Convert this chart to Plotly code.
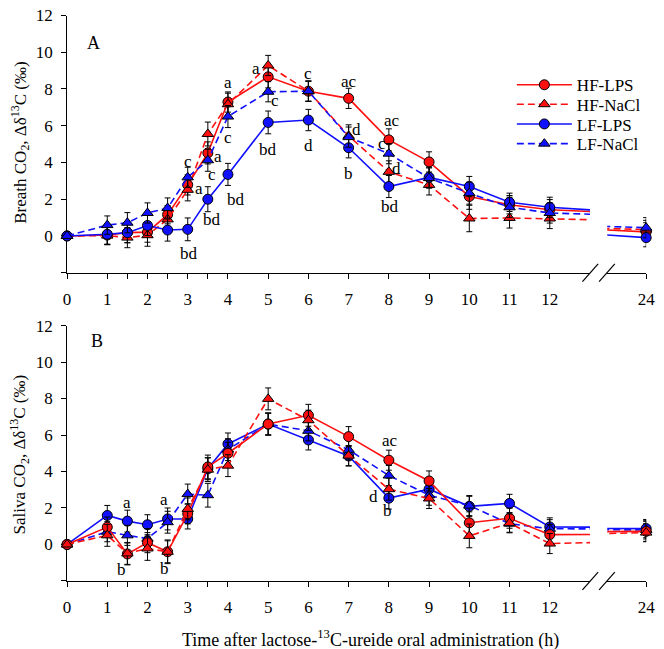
import plotly.graph_objects as go

W, H = 664, 649

# ---------------- data ----------------
hours = [0, 1, 1.5, 2, 2.5, 3, 3.5, 4, 5, 6, 7, 8, 9, 10, 11, 12, 24]
label_ticks = [0, 1, 2, 3, 4, 5, 6, 7, 8, 9, 10, 11, 12]
series_names = ["HF-LPS", "HF-NaCl", "LF-LPS", "LF-NaCl"]

# Panel A: breath CO2
hf_lps_A = [0, 0.05, 0.18, 0.21, 1.16, 2.78, 4.52, 7.29, 8.66, 7.88, 7.49, 5.23, 4.03, 2.15, 1.70, 1.43, 0.22]
hf_nacl_A = [0, 0.02, -0.09, 0.04, 0.90, 2.51, 5.55, 7.17, 9.28, 7.88, 5.45, 3.49, 2.78, 0.95, 0.98, 0.95, 0.35]
lf_lps_A = [0, 0.09, 0.18, 0.57, 0.32, 0.36, 2.00, 3.35, 6.18, 6.31, 4.80, 2.69, 3.19, 2.69, 1.83, 1.56, -0.09]
lf_nacl_A = [0, 0.59, 0.72, 1.25, 1.52, 3.19, 4.12, 6.50, 7.85, 7.88, 5.38, 4.48, 3.15, 2.33, 1.56, 1.25, 0.45]

hf_lps_A_err = [0, 0.50, 0.55, 0.55, 0.50, 0.55, 0.60, 0.55, 0.60, 0.55, 0.55, 0.60, 0.55, 0.70, 0.50, 0.55, 0.50]
hf_nacl_A_err = [0, 0.50, 0.55, 0.60, 0.55, 0.60, 0.65, 0.60, 0.55, 0.55, 0.60, 0.60, 0.55, 0.72, 0.55, 0.55, 0.50]
lf_lps_A_err = [0, 0.55, 0.55, 0.55, 0.60, 0.62, 0.68, 0.60, 0.62, 0.58, 0.55, 0.60, 0.55, 0.55, 0.50, 0.55, 0.50]
lf_nacl_A_err = [0, 0.50, 0.55, 0.55, 0.55, 0.55, 0.60, 0.60, 0.55, 0.55, 0.55, 0.55, 0.55, 0.60, 0.55, 0.55, 0.55]

# Panel B: saliva CO2
hf_lps_B = [0, 0.95, -0.52, 0.10, -0.40, 1.68, 4.25, 5.00, 6.60, 7.08, 5.91, 4.62, 3.48, 1.19, 1.44, 0.54, 0.72]
hf_nacl_B = [0, 0.50, -0.49, -0.22, -0.40, 1.95, 4.10, 4.32, 7.98, 6.81, 4.87, 3.03, 2.52, 0.47, 1.17, 0.05, 0.65]
lf_lps_B = [0, 1.59, 1.28, 1.08, 1.40, 1.40, 4.15, 5.51, 6.60, 5.73, 4.85, 2.54, 3.03, 2.09, 2.25, 0.96, 0.87]
lf_nacl_B = [0, 0.70, 0.50, 0.32, 1.22, 2.76, 2.70, 5.20, 6.60, 6.23, 5.19, 3.78, 2.70, 2.13, 1.14, 0.86, 0.80]

hf_lps_B_err = [0, 0.55, 0.60, 0.55, 0.60, 0.55, 0.65, 0.60, 0.60, 0.60, 0.55, 0.55, 0.55, 0.60, 0.55, 0.55, 0.55]
hf_nacl_B_err = [0, 0.60, 0.60, 0.65, 0.65, 0.60, 0.65, 0.60, 0.60, 0.55, 0.55, 0.60, 0.55, 0.65, 0.50, 0.55, 0.50]
lf_lps_B_err = [0, 0.55, 0.60, 0.55, 0.60, 0.55, 0.60, 0.60, 0.60, 0.55, 0.55, 0.60, 0.55, 0.55, 0.50, 0.50, 0.50]
lf_nacl_B_err = [0, 0.55, 0.55, 0.55, 0.60, 0.55, 0.65, 0.60, 0.60, 0.55, 0.55, 0.55, 0.55, 0.55, 0.50, 0.50, 0.50]

# significance letters: (x, y, text)
letters_A = [(3.0, 4.03, "c"), (3.27, 2.6, "a"), (3.76, 4.3, "a"), (3.6, 3.32, "c"),
             (3.6, 0.9, "bd"), (3.02, -0.98, "bd"), (4.0, 8.33, "a"), (4.0, 5.38, "c"),
             (4.2, 1.97, "bd"), (4.69, 9.14, "a"), (5.16, 7.38, "c"), (5.0, 4.69, "bd"),
             (6.0, 8.87, "c"), (6.0, 4.93, "d"), (7.01, 8.42, "ac"), (7.2, 5.82, "d"),
             (7.0, 3.4, "b"), (8.07, 6.31, "ac"), (7.82, 5.05, "c"), (8.19, 3.67, "d"),
             (8.03, 1.58, "bd")]
letters_B = [(1.5, 2.31, "a"), (1.36, -1.38, "b"), (2.42, 2.49, "a"), (2.42, -1.33, "b"),
             (8.04, 5.7, "ac"), (7.63, 2.63, "d"), (7.96, 1.86, "b")]

# ---------------- style ----------------
FONT = "Liberation Serif, Times New Roman, serif"
RED = "#ff1010"
BLUE = "#1010ff"
styles = {
    "HF-LPS": dict(color=RED, dash="solid", symbol="circle", size=10),
    "HF-NaCl": dict(color=RED, dash="7px,4px", symbol="triangle-up", size=10),
    "LF-LPS": dict(color=BLUE, dash="solid", symbol="circle", size=10),
    "LF-NaCl": dict(color=BLUE, dash="7px,4px", symbol="triangle-up", size=10),
}


def px(x):
    return x / W


def py(y):
    return 1 - y / H


# pixel geometry
XL, XBREAK_L, XBREAK_R, XR = 64.3, 597.7, 615.3, 655.0
A_TOP, A_BOT = 6.6, 267.4
B_TOP, B_BOT = 321.0, 580.0

fig = go.Figure()

panelA = [("HF-LPS", hf_lps_A, hf_lps_A_err), ("HF-NaCl", hf_nacl_A, hf_nacl_A_err),
          ("LF-LPS", lf_lps_A, lf_lps_A_err), ("LF-NaCl", lf_nacl_A, lf_nacl_A_err)]
panelB = [("LF-LPS", lf_lps_B, lf_lps_B_err), ("LF-NaCl", lf_nacl_B, lf_nacl_B_err),
          ("HF-LPS", hf_lps_B, hf_lps_B_err), ("HF-NaCl", hf_nacl_B, hf_nacl_B_err)]

legend_ids = {"HF-LPS": "legend", "HF-NaCl": "legend2", "LF-LPS": "legend3", "LF-NaCl": "legend4"}


def add_series(name, vals, errs, xa, ya, showlegend):
    st = styles[name]
    fig.add_trace(go.Scatter(
        x=hours, y=vals, name=name, mode="lines+markers",
        xaxis=xa, yaxis=ya, cliponaxis=False,
        line=dict(color=st["color"], width=1.6, dash=st["dash"]),
        marker=dict(symbol=st["symbol"], size=st["size"], color=st["color"],
                    line=dict(color="black", width=1)),
        error_y=dict(type="data", array=errs, visible=True, color="black",
                     thickness=1, width=3),
        showlegend=showlegend,
        legend=legend_ids[name] if showlegend else None,
    ))


for name, vals, errs in panelA:
    add_series(name, vals, errs, "x", "y", True)
    add_series(name, vals, errs, "x2", "y", False)
for name, vals, errs in panelB:
    add_series(name, vals, errs, "x3", "y2", False)
    add_series(name, vals, errs, "x4", "y2", False)

axis_common = dict(showline=True, linecolor="black", linewidth=1, ticks="outside",
                   ticklen=5, tickcolor="black", tickwidth=1, showgrid=False,
                   zeroline=False, layer="below traces",
                   tickfont=dict(family=FONT, size=17, color="black"))

x_major = [h for h in hours if h in label_ticks]
x_minor = [h for h in hours if h <= 12 and h not in label_ticks]
minor_x = dict(tickvals=x_minor, ticks="outside", ticklen=5, tickcolor="black",
               tickwidth=1, showgrid=False)

xmain = dict(axis_common, range=[0, 13], tickvals=x_major,
             ticktext=[str(int(h)) for h in x_major], minor=minor_x,
             domain=[px(XL), px(XBREAK_L)], ticklabelstandoff=6)
xtail = dict(axis_common, range=[23, 24], tickvals=[24], ticktext=["24"],
             domain=[px(XBREAK_R), px(XR)], ticklabelstandoff=6)
y_major = [0, 2, 4, 6, 8, 10, 12]
minor_y = dict(tickvals=[-2], ticks="outside", ticklen=5, tickcolor="black",
               tickwidth=1, showgrid=False)
ycommon = dict(axis_common, range=[-2, 12], tickvals=y_major,
               ticktext=[str(v) for v in y_major], minor=minor_y,
               ticklabelstandoff=5)

fig.update_layout(
    width=W, height=H,
    margin=dict(l=0, r=0, t=0, b=0),
    paper_bgcolor="white", plot_bgcolor="white",
    font=dict(family=FONT, size=16, color="black"),
    xaxis=dict(xmain, anchor="y"),
    xaxis2=dict(xtail, anchor="y"),
    xaxis3=dict(xmain, anchor="y2"),
    xaxis4=dict(xtail, anchor="y2"),
    yaxis=dict(ycommon, anchor="x", domain=[py(A_BOT), py(A_TOP)]),
    yaxis2=dict(ycommon, anchor="x3", domain=[py(B_BOT), py(B_TOP)]),
)

# legends, one per row
leg_rows = {"legend": 77.3, "legend2": 97.0, "legend3": 117.0, "legend4": 137.0}
for lid, ypix in leg_rows.items():
    fig.update_layout({lid: dict(x=px(518), y=py(ypix), xanchor="left", yanchor="middle",
                                 bgcolor="rgba(0,0,0,0)", borderwidth=0,
                                 itemwidth=55,
                                 font=dict(family=FONT, size=17, color="black"))})

annotations = []
for (xv, yv, t) in letters_A:
    annotations.append(dict(x=xv, y=yv, xref="x", yref="y", text=t, showarrow=False,
                            font=dict(family=FONT, size=17, color="black")))
for (xv, yv, t) in letters_B:
    annotations.append(dict(x=xv, y=yv, xref="x3", yref="y2", text=t, showarrow=False,
                            font=dict(family=FONT, size=17, color="black")))

annotations += [
    dict(x=px(83), y=py(22), xref="paper", yref="paper", text="A", showarrow=False,
         font=dict(family=FONT, size=18, color="black")),
    dict(x=px(87), y=py(337), xref="paper", yref="paper", text="B", showarrow=False,
         font=dict(family=FONT, size=18, color="black")),
    dict(x=px(16), y=py(136), xref="paper", yref="paper", textangle=-90,
         xanchor="center", yanchor="middle",
         text="Breath CO<sub>2</sub>, Δδ<sup>13</sup>C (‰)", showarrow=False,
         font=dict(family=FONT, size=17, color="black")),
    dict(x=px(16), y=py(452), xref="paper", yref="paper", textangle=-90,
         xanchor="center", yanchor="middle",
         text="Saliva CO<sub>2</sub>, Δδ<sup>13</sup>C (‰)", showarrow=False,
         font=dict(family=FONT, size=17, color="black")),
    dict(x=px(374), y=py(639), xref="paper", yref="paper",
         xanchor="center", yanchor="middle",
         text="Time after lactose-<sup>13</sup>C-ureide oral administration (h)", showarrow=False,
         font=dict(family=FONT, size=18, color="black")),
]
fig.update_layout(annotations=annotations)

# axis break marks
shapes = []
for axis_y in (A_BOT, B_BOT):
    for x0 in (590.0, 607.0):
        shapes.append(dict(type="line", xref="paper", yref="paper",
                           x0=px(x0), y0=py(axis_y + 9), x1=px(x0 + 16), y1=py(axis_y - 9),
                           line=dict(color="black", width=1.2)))
fig.update_layout(shapes=shapes)

fig.write_html("out.html")
